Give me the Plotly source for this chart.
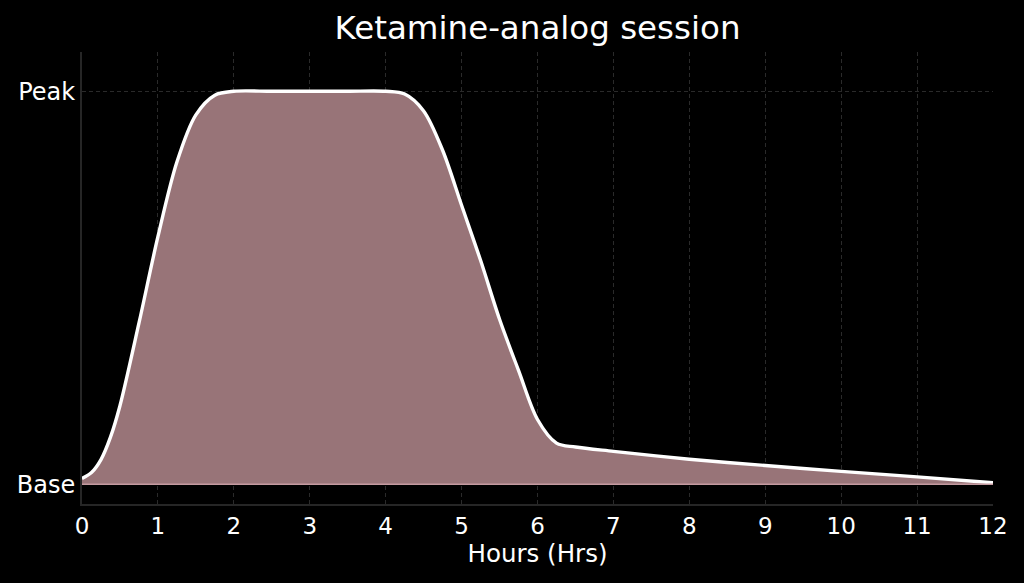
import plotly.graph_objects as go

hours = [0, 0.125, 0.25, 0.375, 0.5, 0.75, 1.0, 1.25, 1.5, 1.75, 2.0, 2.5, 3.0, 3.5,
         4.0, 4.25, 4.5, 4.75, 5.0, 5.25, 5.5, 5.75, 6.0, 6.25, 6.5, 7, 8, 9, 10,
         11, 12]
intensity = [0.015, 0.03, 0.063, 0.12, 0.20, 0.41, 0.63, 0.82, 0.94, 0.99, 1.0, 1.0,
             1.0, 1.0, 1.0, 0.993, 0.95, 0.85, 0.71, 0.57, 0.42, 0.29, 0.165, 0.105,
             0.095, 0.084, 0.064, 0.048, 0.033, 0.019, 0.004]
x_ticks = list(range(0, 13))
y_tickvals = [0, 1]
y_ticktext = ["Base", "Peak"]

FONT = "DejaVu Sans"
GRID = "#2a2a2a"

fig = go.Figure()
fig.add_trace(go.Scatter(
    x=hours, y=intensity, mode="lines",
    line=dict(color="white", width=3.4, shape="spline", smoothing=0.9),
    fill="tozeroy", fillcolor="#987478",
    hoverinfo="skip", showlegend=False,
))
fig.add_trace(go.Scatter(
    x=[hours[0], hours[-1]], y=[0, 0], mode="lines",
    line=dict(color="#c49aa0", width=1.5),
    hoverinfo="skip", showlegend=False,
))

fig.update_layout(
    width=1024, height=583,
    paper_bgcolor="black", plot_bgcolor="black",
    margin=dict(l=82, r=31, t=52, b=79),
    title=dict(text="Ketamine-analog session", x=0.5, xref="paper", xanchor="center",
               y=1 - 28 / 583, yanchor="middle",
               font=dict(family=FONT, size=32.5, color="white")),
    font=dict(family=FONT, color="white"),
)
fig.update_xaxes(
    range=[0, 12], tickvals=x_ticks, ticktext=[str(v) for v in x_ticks],
    tickfont=dict(family=FONT, size=23, color="white"),
    showgrid=True, gridcolor=GRID, griddash="4px,3px", gridwidth=1,
    showline=True, linecolor="#262626", linewidth=2,
    ticks="", automargin=False,
    zeroline=False,
    title=dict(text="Hours (Hrs)", font=dict(family=FONT, size=24.5, color="white"),
               standoff=6),
)
fig.update_yaxes(
    range=[-0.05, 1.1], tickvals=y_tickvals, ticktext=y_ticktext,
    tickfont=dict(family=FONT, size=24, color="white"),
    showgrid=True, gridcolor=GRID, griddash="4px,3px", gridwidth=1,
    showline=True, linecolor="#262626", linewidth=2,
    ticks="", automargin=False,
    zeroline=False,
)

fig.write_html(
    "out.html",
    config={"displayModeBar": False},
    post_script="document.body.style.margin='0';document.body.style.background='black';",
)
